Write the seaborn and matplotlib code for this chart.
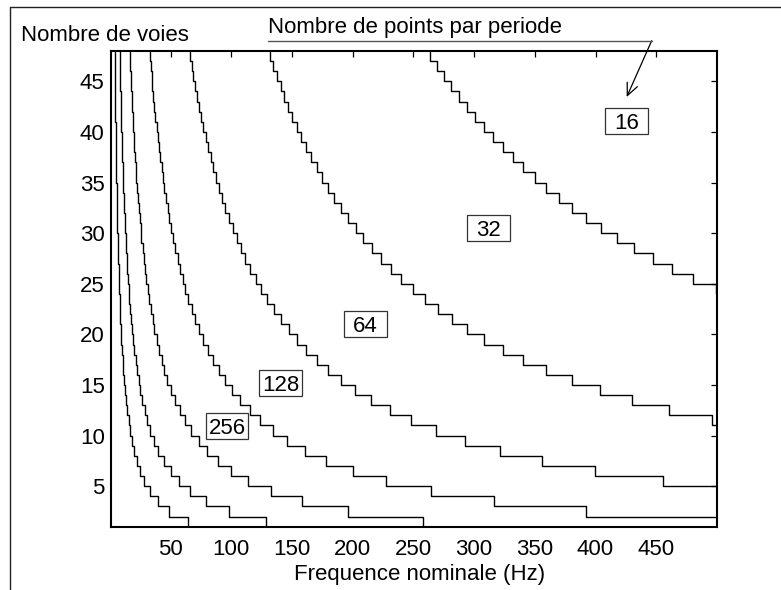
import matplotlib
matplotlib.use("Agg")
import matplotlib.pyplot as plt
import matplotlib.transforms as mtransforms
from matplotlib.patches import Rectangle
from matplotlib.lines import Line2D
import seaborn as sns

# Frequency (Hz) of each vertical step of the staircase contours,
# listed from 47 channels downward (one value per channel count).
pas_16 = [263.9, 269.4, 275.1, 281.1, 287.4, 293.9, 300.8, 308.0, 315.6, 323.5,
          331.8, 340.6, 349.8, 359.6, 369.9, 380.8, 392.4, 404.8, 417.9, 431.9,
          446.9, 462.9, 480.2, 498.8]
pas_32 = [131.9, 134.7, 137.6, 140.6, 143.7, 147.0, 150.4, 154.0, 157.8, 161.8,
          165.9, 170.3, 174.9, 179.8, 184.9, 190.4, 196.2, 202.4, 208.9, 215.9,
          223.4, 231.5, 240.1, 249.4, 259.3, 270.1, 281.7, 294.4, 308.3, 323.6,
          340.5, 359.3, 380.2, 403.8, 430.4, 460.8, 495.8]
pas_64 = [66.0, 67.3, 68.8, 70.3, 71.9, 73.5, 75.2, 77.0, 78.9, 80.9,
          83.0, 85.1, 87.5, 89.9, 92.5, 95.2, 98.1, 101.2, 104.5, 108.0,
          111.7, 115.7, 120.0, 124.7, 129.7, 135.0, 140.9, 147.2, 154.2, 161.8,
          170.3, 179.6, 190.1, 201.9, 215.2, 230.4, 247.9, 268.3, 292.3, 321.1,
          356.2, 399.8, 455.7]
pas_128 = [33.0, 33.7, 34.4, 35.1, 35.9, 36.7, 37.6, 38.5, 39.4, 40.4,
           41.5, 42.6, 43.7, 44.9, 46.2, 47.6, 49.0, 50.6, 52.2, 54.0,
           55.9, 57.9, 60.0, 62.3, 64.8, 67.5, 70.4, 73.6, 77.1, 80.9,
           85.1, 89.8, 95.0, 100.9, 107.6, 115.2, 123.9, 134.1, 146.2, 160.6,
           178.1, 199.9, 227.8, 264.8, 316.2, 392.2]
pas_256 = [16.5, 16.8, 17.2, 17.6, 18.0, 18.4, 18.8, 19.3, 19.7, 20.2,
           20.7, 21.3, 21.9, 22.5, 23.1, 23.8, 24.5, 25.3, 26.1, 27.0,
           27.9, 28.9, 30.0, 31.2, 32.4, 33.8, 35.2, 36.8, 38.5, 40.5,
           42.6, 44.9, 47.5, 50.5, 53.8, 57.6, 62.0, 67.1, 73.1, 80.3,
           89.0, 100.0, 113.9, 132.4, 158.1, 196.1, 257.8]
pas_512 = [8.2, 8.4, 8.6, 8.8, 9.0, 9.2, 9.4, 9.6, 9.9, 10.1,
           10.4, 10.6, 10.9, 11.2, 11.6, 11.9, 12.3, 12.6, 13.1, 13.5,
           14.0, 14.5, 15.0, 15.6, 16.2, 16.9, 17.6, 18.4, 19.3, 20.2,
           21.3, 22.5, 23.8, 25.2, 26.9, 28.8, 31.0, 33.5, 36.5, 40.1,
           44.5, 50.0, 57.0, 66.2, 79.0, 98.0, 128.9]
pas_1024 = [4.1, 4.2, 4.3, 4.4, 4.5, 4.6, 4.7, 4.8, 4.9, 5.1,
            5.2, 5.3, 5.5, 5.6, 5.8, 5.9, 6.1, 6.3, 6.5, 6.7,
            7.0, 7.2, 7.5, 7.8, 8.1, 8.4, 8.8, 9.2, 9.6, 10.1,
            10.6, 11.2, 11.9, 12.6, 13.4, 14.4, 15.5, 16.8, 18.3, 20.1,
            22.3, 25.0, 28.5, 33.1, 39.5, 49.0, 64.5]

niveaux = [16, 32, 64, 128, 256, 512, 1024]
pas = [pas_16, pas_32, pas_64, pas_128, pas_256, pas_512, pas_1024]
# contours that leave the chart through the right edge instead of the bottom
bord_droit = [True, True, True, True, False, False, False]

etiquettes = ["16", "32", "64", "128", "256"]
etiq_freq = [425.5, 311.6, 210.7, 140.6, 96.5]
etiq_voies = [41.1, 30.5, 21.0, 15.2, 10.95]

x_ticks = [50, 100, 150, 200, 250, 300, 350, 400, 450]
y_ticks = [5, 10, 15, 20, 25, 30, 35, 40, 45]

VOIE_HAUTE = 47
VOIES_MIN, VOIES_MAX = 1, 48
FREQ_MIN, FREQ_MAX = 1, 500

W, H = 781, 590

sns.set_theme(style="white")
plt.rcParams["font.family"] = ["Liberation Sans", "DejaVu Sans"]
plt.rcParams["axes.edgecolor"] = "black"
plt.rcParams["xtick.color"] = "black"
plt.rcParams["ytick.color"] = "black"
plt.rcParams["text.color"] = "black"

fig = plt.figure(figsize=(W / 100, H / 100), dpi=100)
fig.patch.set_facecolor("white")


def px(x, y):
    """Image pixel (origin top-left) to figure fraction."""
    return x / W, 1 - y / H


left, top, right, bottom = 111, 51, 717, 526.7
ax = fig.add_axes([left / W, 1 - bottom / H, (right - left) / W, (bottom - top) / H])


def escalier(freqs, vers_bord):
    xs, ys = [], []
    for i, f in enumerate(freqs):
        n = VOIE_HAUTE - i
        xs += [f, f]
        ys += [n + 1, n]
    if vers_bord:
        xs.append(FREQ_MAX)
        ys.append(ys[-1])
    return xs, ys


for freqs, vers_bord in zip(pas, bord_droit):
    xs, ys = escalier(freqs, vers_bord)
    sns.lineplot(x=xs, y=ys, sort=False, estimator=None, color="black",
                 linewidth=1.0, ax=ax, legend=False)

ax.set_xlim(FREQ_MIN, FREQ_MAX)
ax.set_ylim(VOIES_MIN, VOIES_MAX)
ax.set_xticks(x_ticks)
ax.set_yticks(y_ticks)
ax.set_xlabel("")
ax.set_ylabel("")
ax.tick_params(direction="in", top=True, right=True, length=4, width=0.9,
               labelsize=16, colors="black")
ax.tick_params(axis="x", pad=9)
ax.tick_params(axis="y", pad=4.5)
for sp in ax.spines.values():
    sp.set_visible(True)
    sp.set_linewidth(1.5)
    sp.set_color("black")

# boxed contour labels
bw, bh = 0.427, 0.257
for txt, f, n in zip(etiquettes, etiq_freq, etiq_voies):
    trans = fig.dpi_scale_trans + mtransforms.ScaledTranslation(f, n, ax.transData)
    ax.add_patch(Rectangle((-bw / 2, -bh / 2), bw, bh, transform=trans,
                           facecolor="white", edgecolor="#333333", lw=0.9, zorder=4))
    ax.text(f, n, txt, ha="center", va="center_baseline", fontsize=16, zorder=5)

# axis titles
fig.text(*px(20.7, 40.7), "Nombre de voies", fontsize=16, ha="left", va="baseline")
fig.text(*px(420, 580), "Frequence nominale (Hz)", fontsize=16, ha="center", va="baseline")
fig.text(*px(268.3, 33.3), "Nombre de points par periode", fontsize=16,
         ha="left", va="baseline")

# underline and pointer to the "16" label
fig.add_artist(Line2D([268.3 / W, 651.7 / W], [1 - 40.7 / H, 1 - 40.7 / H],
                      transform=fig.transFigure, color="#555555", lw=1.0))
fig.add_artist(plt.matplotlib.patches.FancyArrowPatch(
    px(651.7, 40.7), px(626.7, 97.0), transform=fig.transFigure,
    arrowstyle="->,head_length=0.55,head_width=0.25", mutation_scale=16,
    color="black", lw=0.9, shrinkA=0, shrinkB=0))

# page frame (top and left edges)
fig.add_artist(Line2D([10 / W, 1.0], [1 - 7 / H, 1 - 7 / H],
                      transform=fig.transFigure, color="#222222", lw=1.0))
fig.add_artist(Line2D([10 / W, 10 / W], [1 - 7 / H, 0.0],
                      transform=fig.transFigure, color="#222222", lw=1.0))

fig.savefig("out.png", dpi=100)
